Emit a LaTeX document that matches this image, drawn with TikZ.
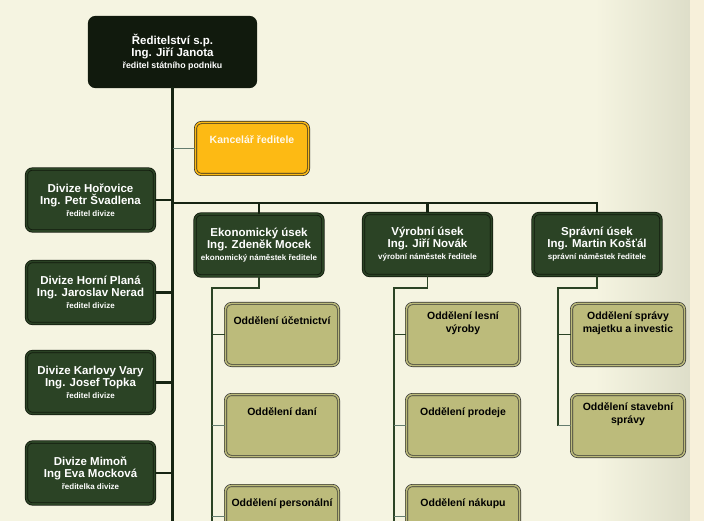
\documentclass[tikz,border=0pt]{standalone}
\usepackage{fontspec}
\setmainfont{Liberation Sans}
\usepackage{tikz}
\usetikzlibrary{positioning, shadows}
\definecolor{creambg}{RGB}{245, 244, 225}
\definecolor{creamdark}{RGB}{222, 222, 201}
\definecolor{creamstrip}{RGB}{247, 240, 218}
\definecolor{headdark}{RGB}{17, 26, 13}
\definecolor{divgreen}{RGB}{43, 67, 37}
\definecolor{linegreen}{RGB}{22, 36, 18}
\definecolor{linegray}{RGB}{100, 124, 110}
\definecolor{officeorange}{RGB}{253, 186, 20}
\definecolor{olive}{RGB}{188, 187, 123}
\newcommand{\bossname}[4][8]{%
{\fontsize{11.5}{14}\selectfont #2}\\{\fontsize{11.5}{14}\selectfont #3}\\{\fontsize{#1}{11}\selectfont #4}}

\tikzset{
  darkbox/.style={draw=headdark, double=#1, double distance=1.6pt, line width=0.8pt,
    fill=#1, rounded corners=6pt, text=white, font=\bfseries, align=center,
    drop shadow={shadow xshift=1pt, shadow yshift=-1pt, opacity=0.35}},
  divbox/.style={darkbox=divgreen, minimum width=128pt, minimum height=62pt},
  subbox/.style={draw=black!80, double=olive, double distance=1.6pt, line width=0.7pt,
    fill=olive, rounded corners=6pt, minimum width=113pt, minimum height=62pt,
    drop shadow={shadow xshift=1pt, shadow yshift=-1pt, opacity=0.35}},
  subtext/.style={font=\bfseries\fontsize{10.5}{13}\selectfont, align=center, anchor=north},
  trunk/.style={linegreen, line width=2.6pt},
  branch/.style={divgreen, line width=1.2pt},
  twig/.style={linegray, line width=1pt}
}

\begin{document}
\begin{tikzpicture}[x=1pt, y=-1pt]
    \clip (0,0) rectangle (704,521);
    % background
    \fill[creambg] (0,0) rectangle (704,521);
    \shade[left color=creambg, right color=creamdark] (595,0) rectangle (690,521);
    \fill[creamstrip] (690,0) rectangle (704,521);

    % connectors first
    \coordinate (trunkend) at (172.5,530);
    \coordinate (bus) at (172.5,203);
    \coordinate (ekonline) at (212,288);
    \coordinate (vyrline) at (394,288);
    \coordinate (spravline) at (558,288);

    \node[darkbox=headdark, minimum width=166pt, minimum height=69pt] (top) at (172.5,52)
        {\bossname[8.8]{Ředitelství s.p.}{Ing. Jiří Janota}{ředitel státního podniku}};

    \draw[trunk] (top.south) -- (trunkend);

    % office
    \node[draw=black!85, double=officeorange, double distance=1.6pt, line width=0.7pt,
        fill=officeorange, rounded corners=6pt, minimum width=113pt, minimum height=52pt,
        drop shadow={shadow xshift=1pt, shadow yshift=-1pt, opacity=0.35}]
        (office) at (252,148.5) {};
    \node[subtext, text=white!92!officeorange, below=10pt of office.north] (officetext) {Kancelář ředitele};
    \draw[twig] (office.west -| bus) -- (office.west);

    % divisions
    \node[divbox] (div1) at (90.5,200) {\bossname{Divize Hořovice}{Ing. Petr Švadlena}{ředitel divize}};
    \node[divbox] (div2) at (90.5,292.5) {\bossname{Divize Horní Planá}{Ing. Jaroslav Nerad}{ředitel divize}};
    \node[divbox] (div3) at (90.5,382.5) {\bossname{Divize Karlovy Vary}{Ing. Josef Topka}{ředitel divize}};
    \node[divbox] (div4) at (90.5,473) {\bossname{Divize Mimoň}{Ing Eva Mocková}{ředitelka divize}};
    \foreach \d in {div1,div2,div3,div4}
        \draw[trunk] (\d.east) -- (\d.east -| bus);

    % sections
    \node[divbox] (ekon) at (259,245) {\bossname{Ekonomický úsek}{Ing. Zdeněk Mocek}{ekonomický náměstek ředitele}};
    \node[divbox] (vyr) at (427.5,244.5) {\bossname{Výrobní úsek}{Ing. Jiří Novák}{výrobní náměstek ředitele}};
    \node[divbox] (sprav) at (597,244.5) {\bossname{Správní úsek}{Ing. Martin Košťál}{správní náměstek ředitele}};
    \draw[trunk] (bus) -| (sprav.north);
    \draw[trunk] (ekon.north) -- (ekon.north |- bus);
    \draw[trunk] (vyr.north) -- (vyr.north |- bus);

    % departments
    \node[subbox] (u1) at (282,334.5) {};
    \node[subbox] (u2) at (282,425.5) {};
    \node[subbox] (u3) at (282,516.5) {};
    \node[subbox] (v1) at (463,334.5) {};
    \node[subbox] (v2) at (463,425.5) {};
    \node[subbox] (v3) at (463,516.5) {};
    \node[subbox] (s1) at (628,334.5) {};
    \node[subbox] (s2) at (628,425.5) {};
    \node[subtext, below=10pt of u1.north] (u1t) {Oddělení účetnictví};
    \node[subtext, below=10pt of u2.north] (u2t) {Oddělení daní};
    \node[subtext, below=10pt of u3.north] (u3t) {Oddělení personální};
    \node[subtext, below=5pt of v1.north] (v1t) {Oddělení lesní\\výroby};
    \node[subtext, below=10pt of v2.north] (v2t) {Oddělení prodeje};
    \node[subtext, below=10pt of v3.north] (v3t) {Oddělení nákupu};
    \node[subtext, below=5pt of s1.north] (s1t) {Oddělení správy\\majetku a investic};
    \node[subtext, below=5pt of s2.north] (s2t) {Oddělení stavební\\správy};

    \draw[branch] (ekon.south) |- (ekonline) -- (ekonline |- trunkend);
    \draw[branch] (vyr.south) |- (vyrline) -- (vyrline |- trunkend);
    \draw[branch] (sprav.south) |- (spravline) -- (spravline |- s2.west);
    \draw[branch] (u1.west -| ekonline) -- (u1.west);
    \draw[branch] (v1.west -| vyrline) -- (v1.west);
    \draw[branch] (s1.west -| spravline) -- (s1.west);
    \foreach \a/\l in {u2/ekonline,u3/ekonline,v2/vyrline,v3/vyrline,s2/spravline}
        \draw[twig] (\a.west -| \l) -- (\a.west);
\end{tikzpicture}
\end{document}
